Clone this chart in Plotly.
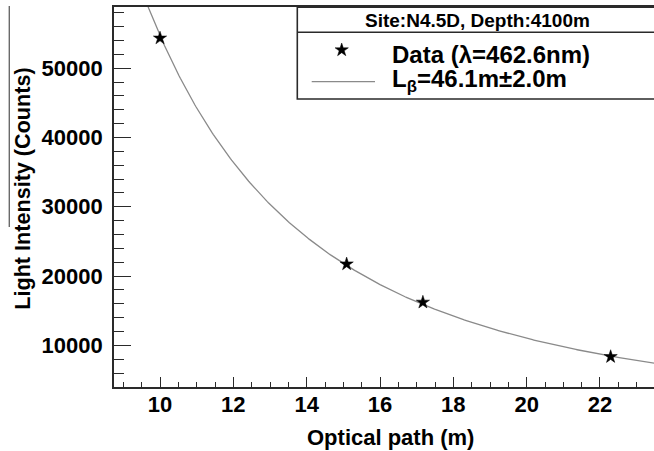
import numpy as np
import plotly.graph_objects as go

# ---------------- data ----------------
path_m = [10.0, 15.09, 17.17, 22.29]          # optical path (m)
intensity = [54350, 21730, 16210, 8350]       # light intensity (counts)

fit_L = 46.1          # attenuation length L_beta (m)
fit_A = 6.80e6        # fit amplitude
fit_xmin, fit_xmax = 9.3, 23.6

x_tickvals = [10, 12, 14, 16, 18, 20, 22]
x_ticktext = ["10", "12", "14", "16", "18", "20", "22"]
y_tickvals = [10000, 20000, 30000, 40000, 50000]
y_ticktext = ["10000", "20000", "30000", "40000", "50000"]

header_text = "Site:N4.5D, Depth:4100m"
data_label = "Data (λ=462.6nm)"
fit_label = "L<sub>β</sub>=46.1m±2.0m"
x_title = "Optical path (m)"
y_title = "Light Intensity (Counts)"

# ---------------- geometry ----------------
W, H = 654, 451
ML, MR, MT, MB = 114, 0, 7, 64
PW, PH = W - ML - MR, H - MT - MB
FONT = "Liberation Sans, Arial, sans-serif"
AX = "#2a2a2a"
CURVE = "#8a8a8a"


def px(x):
    return (x - ML) / PW


def py(y):
    return (H - MB - y) / PH


fit_x = np.linspace(fit_xmin, fit_xmax, 400)
fit_y = fit_A * np.exp(-fit_x / fit_L) / fit_x ** 2

fig = go.Figure()
fig.add_trace(go.Scatter(x=fit_x, y=fit_y, mode="lines",
                         line=dict(color=CURVE, width=1.3), showlegend=False,
                         hoverinfo="skip"))
fig.add_trace(go.Scatter(x=path_m, y=intensity, mode="markers",
                         marker=dict(symbol="star", size=10, color="black",
                                     line=dict(width=0.5, color="black")),
                         showlegend=False))
# legend marker on a pixel-coordinate overlay axis
fig.add_trace(go.Scatter(x=[341.7], y=[50], xaxis="x2", yaxis="y2", mode="markers",
                         marker=dict(symbol="star", size=10, color="black",
                                     line=dict(width=0.5, color="black")),
                         showlegend=False, hoverinfo="skip"))

fig.update_layout(
    width=W, height=H,
    margin=dict(l=ML, r=MR, t=MT, b=MB),
    paper_bgcolor="white", plot_bgcolor="white",
    showlegend=False,
    xaxis=dict(range=[8.745, 23.473], tickvals=x_tickvals, ticktext=x_ticktext,
               ticks="inside", ticklen=10, tickwidth=1.3, tickcolor=AX,
               minor=dict(dtick=0.5, tick0=0, ticks="inside", ticklen=5,
                          tickwidth=1.1, tickcolor=AX, showgrid=False),
               showline=True, linecolor=AX, linewidth=1.6, mirror=True,
               showgrid=False, zeroline=False,
               tickfont=dict(family=FONT, size=22, color="black", weight="bold"),
               ticklabelstandoff=-3),
    yaxis=dict(range=[3978, 58850], tickvals=y_tickvals, ticktext=y_ticktext,
               ticks="inside", ticklen=17, tickwidth=1.3, tickcolor=AX,
               minor=dict(dtick=2000, tick0=0, ticks="inside", ticklen=10,
                          tickwidth=1.1, tickcolor=AX, showgrid=False),
               showline=True, linecolor=AX, linewidth=1.6,
               showgrid=False, zeroline=False,
               tickfont=dict(family=FONT, size=22, color="black", weight="bold"),
               ticklabelstandoff=5),
    xaxis2=dict(overlaying="x", anchor="y2", range=[ML, W - MR], visible=False,
                fixedrange=True),
    yaxis2=dict(overlaying="y", anchor="x2", range=[H - MB, MT], visible=False,
                fixedrange=True),
)

shapes = []
# legend box (extends past the right edge)
shapes.append(dict(type="rect", xref="paper", yref="paper",
                   x0=px(297.3), x1=px(700), y0=py(99), y1=py(7.3),
                   line=dict(color=AX, width=1.6), fillcolor="rgba(0,0,0,0)",
                   layer="above"))
shapes.append(dict(type="line", xref="paper", yref="paper",
                   x0=px(297.3), x1=px(700), y0=py(32.3), y1=py(32.3),
                   line=dict(color=AX, width=1.6), layer="above"))
# legend line sample
shapes.append(dict(type="line", xref="paper", yref="paper",
                   x0=px(311.7), x1=px(375), y0=py(81.7), y1=py(81.7),
                   line=dict(color=CURVE, width=1.3), layer="above"))
# thin vertical line at the far left of the picture
shapes.append(dict(type="line", xref="paper", yref="paper",
                   x0=px(9.3), x1=px(9.3), y0=py(6), y1=py(227),
                   line=dict(color="#6a6a6a", width=1.4), layer="above"))
fig.update_layout(shapes=shapes)

ann = []
ann.append(dict(text=header_text, xref="paper", yref="paper", x=px(477.5), y=py(20),
                xanchor="center", yanchor="middle", showarrow=False,
                font=dict(family=FONT, size=19, color="black", weight="bold")))
ann.append(dict(text=data_label, xref="paper", yref="paper", x=px(390), y=py(55),
                xanchor="left", yanchor="middle", showarrow=False,
                font=dict(family=FONT, size=24, color="black", weight="bold")))
ann.append(dict(text=fit_label, xref="paper", yref="paper", x=px(390), y=py(80),
                xanchor="left", yanchor="middle", showarrow=False,
                font=dict(family=FONT, size=24, color="black", weight="bold")))
ann.append(dict(text=x_title, xref="paper", yref="paper", x=px(390), y=py(437),
                xanchor="center", yanchor="middle", showarrow=False,
                font=dict(family=FONT, size=22, color="black", weight="bold")))
ann.append(dict(text=y_title, xref="paper", yref="paper", x=px(21.7), y=py(189),
                xanchor="center", yanchor="middle", showarrow=False, textangle=-90,
                font=dict(family=FONT, size=21.6, color="black", weight="bold")))
fig.update_layout(annotations=ann)

fig.write_html("out.html")
